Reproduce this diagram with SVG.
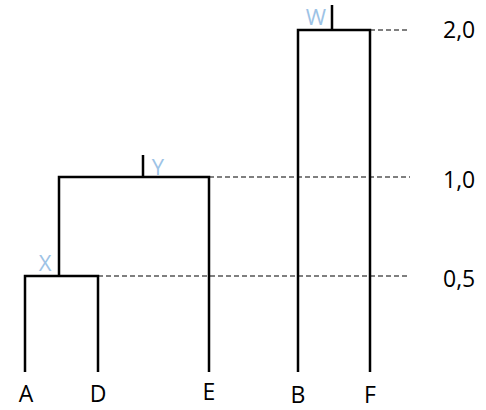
<svg xmlns="http://www.w3.org/2000/svg" width="486" height="410" viewBox="0 0 486 410">
<style>
.l{stroke:#000;stroke-width:2.5;fill:none}
.d{stroke:#000;stroke-width:1.2;stroke-dasharray:5 3;fill:none}
.t{font-family:"Open Sans","Liberation Sans",sans-serif;font-size:23px;fill:#000}
.b{font-family:"Open Sans","Liberation Sans",sans-serif;font-size:22px;fill:#9DC3E6}
</style>
<rect width="486" height="410" fill="#fff"/>
<g id="connectors">
<path class="d" d="M370 30H410M209 177H410M98 276H410"/>
<path class="l" d="M25 372V276H98V372M59 276V177H209V372M143 155V177M298 372V30H370V372M332 5V30"/>
</g>
<g id="A"><text class="t" x="26" y="402" text-anchor="middle">A</text></g>
<g id="D"><text class="t" x="98" y="402" text-anchor="middle">D</text></g>
<g id="E"><text class="t" x="209" y="400" text-anchor="middle">E</text></g>
<g id="B"><text class="t" x="298" y="403" text-anchor="middle">B</text></g>
<g id="F"><text class="t" x="370" y="403" text-anchor="middle">F</text></g>
<g id="X"><text class="b" x="45" y="271" text-anchor="middle">X</text></g>
<g id="Y"><text class="b" x="158" y="175" text-anchor="middle">Y</text></g>
<g id="W"><text class="b" x="316" y="25" text-anchor="middle">W</text></g>
<g id="levels">
<text class="t" x="443" y="38">2,0</text>
<text class="t" x="443" y="188">1,0</text>
<text class="t" x="443" y="287">0,5</text>
</g>
</svg>
